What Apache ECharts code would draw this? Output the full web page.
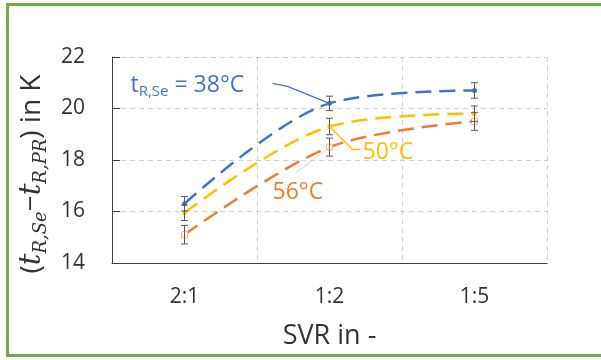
<!DOCTYPE html>
<html><head><meta charset="utf-8">
<script src="https://cdn.jsdelivr.net/npm/echarts@6/dist/echarts.min.js"></script>
<style>html,body{margin:0;padding:0;background:#fff}#c{width:601px;height:360px}</style>
</head><body><div id="c"></div><script>
const categories = ['2:1', '1:2', '1:5'];
const t38 = [16.3, 20.2, 20.7];
const t38Err = [0.28, 0.28, 0.3];
const t50 = [15.95, 19.3, 19.8];
const t50Err = [0.3, 0.32, 0.3];
const t56 = [15.1, 18.5, 19.5];
const t56Err = [0.36, 0.35, 0.35];
const yMin = 14, yMax = 22, yStep = 2;

const BLUE = '#4472C4', YEL = '#FFC000', ORA = '#ED7D31';
const FONT = 'Open Sans';
const SERIF = 'DejaVu Serif';

const chart = echarts.init(document.getElementById('c'), null, {renderer: 'canvas'});

function errData(vals, errs) { return vals.map((v, i) => [i, v, errs[i]]); }
function errRender(params, api) {
  const x = api.value(0), v = api.value(1), e = api.value(2);
  const top = api.coord([x, v + e]), bot = api.coord([x, v - e]);
  const w = 3.5, st = {stroke: '#595959', lineWidth: 1};
  return {type: 'group', children: [
    {type: 'line', shape: {x1: top[0], y1: top[1], x2: bot[0], y2: bot[1]}, style: st},
    {type: 'line', shape: {x1: top[0] - w, y1: top[1], x2: top[0] + w, y2: top[1]}, style: st},
    {type: 'line', shape: {x1: bot[0] - w, y1: bot[1], x2: bot[0] + w, y2: bot[1]}, style: st}
  ]};
}
function lineSeries(name, vals, color, symbol, size, itemStyle) {
  return {
    type: 'line', name, data: vals, smooth: 0.33, symbol, symbolSize: size,
    lineStyle: {color, width: 2.5, type: [16, 8]},
    itemStyle: itemStyle || {color},
    z: 3
  };
}
function errSeries(vals, errs) {
  return {type: 'custom', data: errData(vals, errs), renderItem: errRender, encode: {x: 0, y: 1}, z: 4, silent: true};
}

chart.setOption({
  animation: false,
  grid: {left: 112, right: 54, top: 57, bottom: 97},
  xAxis: {
    type: 'category', data: categories, boundaryGap: true,
    axisLine: {lineStyle: {color: '#404040', width: 1}},
    axisTick: {inside: true, length: 6, lineStyle: {color: '#404040'}},
    axisLabel: {fontFamily: FONT, fontSize: 21, color: '#333', margin: 24},
    splitLine: {show: true, lineStyle: {color: '#d0d0d0', type: [5, 4]}},
    name: 'SVR in -', nameLocation: 'middle', nameGap: 60,
    nameTextStyle: {fontFamily: FONT, fontSize: 27, color: '#333'}
  },
  yAxis: {
    type: 'value', min: yMin, max: yMax, interval: yStep,
    axisLine: {show: true, lineStyle: {color: '#404040', width: 1}},
    axisTick: {show: true, inside: true, length: 8, lineStyle: {color: '#404040'}},
    axisLabel: {fontFamily: FONT, fontSize: 21, color: '#333', margin: 27},
    splitLine: {show: true, lineStyle: {color: '#d0d0d0', type: [5, 4]}},
    name: '{p|(}{t|t}{s|R,Se}{p|−}{t|t}{s|R,PR}{p|) in K}',
    nameLocation: 'middle', nameGap: 58,
    nameTextStyle: {
      color: '#333',
      padding: [0, 28, 0, 0],
      rich: {
        p: {fontFamily: FONT, fontSize: 28, color: '#333', lineHeight: 36},
        t: {fontFamily: SERIF, fontStyle: 'italic', fontSize: 29, color: '#333', lineHeight: 36},
        s: {fontFamily: SERIF, fontStyle: 'italic', fontSize: 18, color: '#333', lineHeight: 18, verticalAlign: 'bottom'}
      }
    }
  },
  series: [
    lineSeries('38°C', t38, BLUE, 'circle', 5),
    lineSeries('50°C', t50, YEL, 'rect', 4),
    lineSeries('56°C', t56, ORA, 'rect', 6, {color: '#fff', borderColor: '#F4B183', borderWidth: 1}),
    errSeries(t38, t38Err),
    errSeries(t50, t50Err),
    errSeries(t56, t56Err)
  ]
});

const pB = chart.convertToPixel({seriesIndex: 0}, [1, t38[1]]);
const pY = chart.convertToPixel({seriesIndex: 1}, [1, t50[1]]);
const pO = chart.convertToPixel({seriesIndex: 2}, [1, t56[1]]);

function poly(p, pts, color, w) {
  return {type: 'polyline', shape: {points: [p].concat(pts.map(d => [p[0] + d[0], p[1] + d[1]]))},
    style: {stroke: color, lineWidth: w, fill: null}, z: 10, silent: true};
}
function label(p, dx, dy, text, color, rich) {
  return {type: 'text', x: p[0] + dx, y: p[1] + dy, z: 10, silent: true,
    style: {text, fill: color, font: '23px "' + FONT + '"', verticalAlign: 'middle', align: 'left', rich}};
}

chart.setOption({
  graphic: [
    {type: 'rect', shape: {x: 7.5, y: 4.5, width: 800, height: 351}, style: {fill: null, stroke: '#70AD47', lineWidth: 3}, silent: true},
    poly(pB, [[-42, -17], [-57, -20]], BLUE, 1.2),
    label(pB, -199, -18, '{t|t}{s|R,Se}{n| = 38°C}', BLUE, {
      t: {fontFamily: FONT, fontSize: 23, fill: BLUE, lineHeight: 28},
      s: {fontFamily: FONT, fontSize: 15, fill: BLUE, lineHeight: 15, verticalAlign: 'bottom'},
      n: {fontFamily: FONT, fontSize: 23, fill: BLUE, lineHeight: 28}
    }),
    poly(pY, [[23, 23], [31, 23]], YEL, 1.5),
    label(pY, 33, 26, '50°C', YEL),
    poly(pO, [[-34, 26]], '#F8CBAD', 1),
    label(pO, -57, 45, '56°C', ORA)
  ]
});
</script></body></html>
